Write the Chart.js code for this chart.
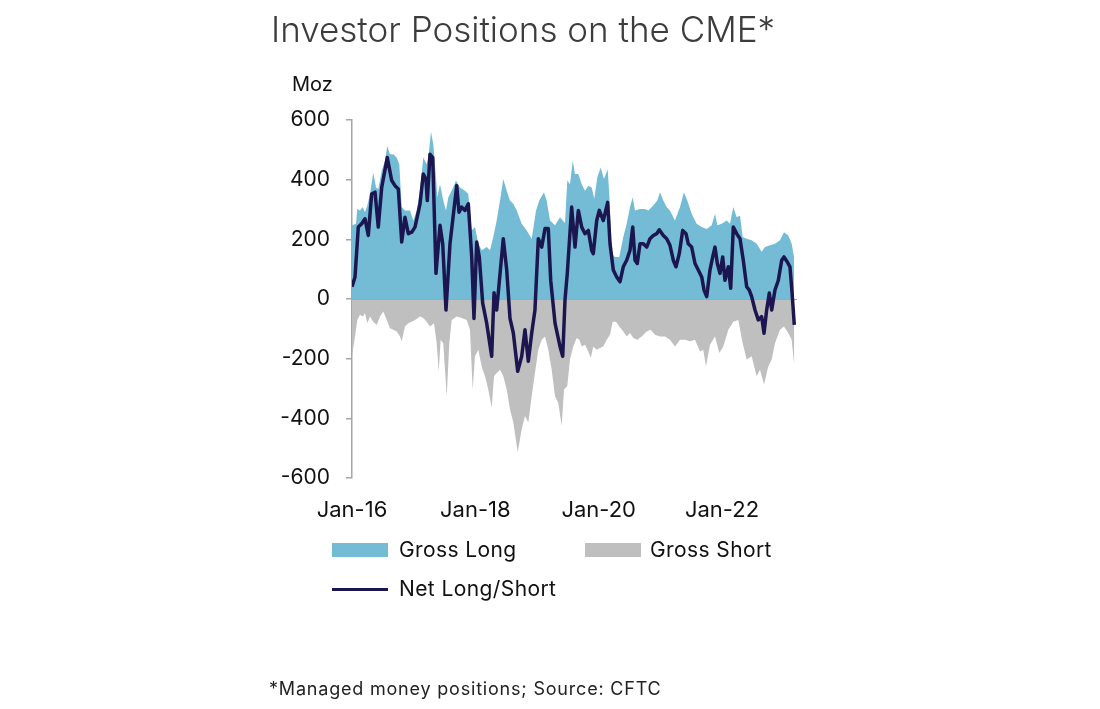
<!DOCTYPE html>
<html><head><meta charset="utf-8">
<script src="https://cdn.jsdelivr.net/npm/chart.js@4.4.1/dist/chart.umd.min.js"></script>
<style>
html,body{margin:0;padding:0;background:#fff;}
#wrap{position:relative;width:1100px;height:709px;overflow:hidden;font-family:Inter,"Liberation Sans",sans-serif;}
canvas{position:absolute;left:0;top:0;}
#title{position:absolute;left:271px;top:8px;font-size:35px;font-weight:300;color:#3c3c3c;white-space:nowrap;}
#unit{position:absolute;left:292px;top:72px;font-size:20px;color:#111;}
.lg{position:absolute;font-size:21px;letter-spacing:0.4px;color:#111;white-space:nowrap;line-height:24px;}
.sw{position:absolute;}
#note{position:absolute;left:269px;top:678px;font-size:18px;letter-spacing:0.8px;color:#222;white-space:nowrap;}
</style></head>
<body><div id="wrap">
<canvas id="c" width="1100" height="709"></canvas>
<div id="title">Investor Positions on the CME*</div>
<div id="unit">Moz</div>
<div id="legend"></div>
<div id="note">*Managed money positions; Source: CFTC</div>
</div>
<script>
const seriesNames = ['Gross Long','Gross Short','Net Long/Short'];
const tickYears = [2016, 2018, 2020, 2022];
const tickLabels = ['Jan-16','Jan-18','Jan-20','Jan-22'];
const yTicks = [-600,-400,-200,0,200,400,600];

const longDates = [2016.000,2016.065,2016.086,2016.130,2016.173,2016.211,2016.248,2016.292,2016.345,2016.389,
2016.426,2016.482,2016.535,2016.572,2016.616,2016.670,2016.725,2016.767,2016.806,2016.859,
2016.940,2016.994,2017.049,2017.103,2017.156,2017.211,2017.237,2017.281,2017.318,2017.362,
2017.383,2017.427,2017.480,2017.524,2017.562,2017.617,2017.686,2017.751,2017.832,2017.886,
2017.941,2017.994,2018.048,2018.103,2018.184,2018.238,2018.291,2018.346,2018.400,2018.453,
2018.509,2018.562,2018.616,2018.671,2018.752,2018.833,2018.914,2018.984,2019.037,2019.113,
2019.157,2019.211,2019.292,2019.373,2019.454,2019.491,2019.535,2019.579,2019.616,2019.670,
2019.725,2019.778,2019.832,2019.887,2019.929,2019.978,2020.033,2020.086,2020.146,2020.172,
2020.211,2020.265,2020.334,2020.399,2020.454,2020.508,2020.552,2020.589,2020.670,2020.751,
2020.805,2020.886,2020.950,2020.994,2021.048,2021.103,2021.156,2021.237,2021.319,2021.383,
2021.437,2021.508,2021.589,2021.671,2021.752,2021.833,2021.886,2021.924,2021.995,2022.076,
2022.129,2022.183,2022.238,2022.292,2022.335,2022.400,2022.481,2022.562,2022.643,2022.697,
2022.778,2022.859,2022.940,2023.005,2023.075,2023.130,2023.167];
const longValues = [247,252,302,297,308,291,313,352,424,374,
369,430,463,513,485,485,474,452,308,297,
297,263,297,363,474,452,474,561,519,408,
341,385,330,297,341,363,397,374,363,352,
230,241,186,163,174,163,208,263,330,402,
363,330,319,297,252,230,202,297,330,358,
330,263,247,274,255,397,385,463,419,419,
385,363,380,374,336,408,441,402,435,352,
152,141,141,208,252,308,341,297,302,302,
297,313,330,358,330,308,297,263,308,358,
330,286,252,241,235,247,286,247,252,263,
252,308,274,280,208,202,197,185,158,174,
180,185,197,224,213,185,141];

const shortDates = [2016.000,2016.049,2016.086,2016.130,2016.173,2016.211,2016.248,2016.292,2016.345,2016.401,
2016.454,2016.508,2016.563,2016.616,2016.670,2016.725,2016.778,2016.806,2016.859,2016.913,
2016.968,2017.022,2017.103,2017.156,2017.211,2017.265,2017.330,2017.373,2017.406,2017.438,
2017.480,2017.536,2017.578,2017.617,2017.698,2017.779,2017.860,2017.913,2017.957,2017.994,
2018.048,2018.103,2018.157,2018.210,2018.265,2018.303,2018.346,2018.400,2018.453,2018.509,
2018.562,2018.616,2018.687,2018.752,2018.805,2018.859,2018.914,2018.967,2019.021,2019.076,
2019.130,2019.183,2019.238,2019.292,2019.345,2019.400,2019.438,2019.491,2019.535,2019.588,
2019.643,2019.686,2019.725,2019.778,2019.832,2019.871,2019.913,2019.968,2020.021,2020.075,
2020.130,2020.184,2020.227,2020.281,2020.334,2020.399,2020.454,2020.508,2020.561,2020.626,
2020.697,2020.779,2020.843,2020.913,2020.994,2021.075,2021.156,2021.237,2021.319,2021.400,
2021.481,2021.562,2021.643,2021.696,2021.740,2021.805,2021.886,2021.956,2022.021,2022.102,
2022.183,2022.264,2022.335,2022.400,2022.481,2022.562,2022.616,2022.681,2022.750,2022.806,
2022.859,2022.940,2023.005,2023.075,2023.130,2023.172];
const shortValues = [-192,-126,-70,-53,-59,-48,-81,-59,-76,-87,
-59,-42,-70,-98,-103,-109,-126,-142,-92,-81,
-76,-70,-59,-64,-76,-92,-81,-148,-242,-137,
-148,-326,-148,-70,-59,-64,-70,-103,-303,-192,
-170,-226,-259,-303,-364,-259,-248,-237,-259,-303,
-370,-414,-514,-437,-392,-414,-326,-248,-170,-137,
-126,-170,-237,-326,-348,-426,-303,-292,-203,-159,
-131,-137,-159,-153,-176,-198,-159,-170,-164,-159,
-137,-120,-76,-76,-92,-109,-126,-114,-131,-137,
-126,-109,-103,-120,-126,-126,-137,-159,-137,-137,
-142,-137,-176,-170,-226,-153,-126,-181,-159,-103,
-76,-70,-148,-203,-192,-259,-237,-287,-226,-203,
-148,-103,-92,-114,-137,-226];

const netDates = [2016.000,2016.049,2016.102,2016.157,2016.211,2016.264,2016.319,2016.373,2016.426,2016.482,
2016.572,2016.644,2016.697,2016.751,2016.806,2016.859,2016.913,2016.968,2017.022,2017.103,
2017.156,2017.200,2017.221,2017.265,2017.309,2017.362,2017.427,2017.471,2017.524,2017.589,
2017.698,2017.735,2017.779,2017.832,2017.886,2017.941,2017.978,2018.022,2018.064,2018.119,
2018.184,2018.265,2018.303,2018.346,2018.453,2018.509,2018.562,2018.616,2018.687,2018.752,
2018.805,2018.859,2018.914,2018.967,2019.021,2019.076,2019.130,2019.183,2019.222,2019.292,
2019.373,2019.417,2019.454,2019.491,2019.562,2019.616,2019.670,2019.725,2019.778,2019.832,
2019.887,2019.913,2019.968,2020.010,2020.075,2020.146,2020.184,2020.237,2020.292,2020.346,
2020.399,2020.454,2020.508,2020.552,2020.589,2020.626,2020.670,2020.724,2020.779,2020.832,
2020.886,2020.941,2020.983,2021.048,2021.103,2021.156,2021.210,2021.254,2021.307,2021.362,
2021.416,2021.453,2021.508,2021.562,2021.615,2021.671,2021.708,2021.752,2021.805,2021.849,
2021.886,2021.924,2021.967,2022.011,2022.048,2022.102,2022.141,2022.183,2022.238,2022.292,
2022.345,2022.400,2022.442,2022.481,2022.535,2022.588,2022.643,2022.681,2022.724,2022.767,
2022.806,2022.859,2022.913,2022.968,2023.005,2023.059,2023.102,2023.135,2023.172];
const netValues = [41,74,241,252,269,213,352,358,241,374,
474,397,380,369,191,274,219,224,241,319,
419,402,330,485,474,86,247,185,-37,185,
380,291,308,297,319,141,-65,191,141,-14,
-81,-192,21,-37,202,97,-65,-114,-242,-192,
-103,-209,-114,-37,202,174,236,236,63,-81,
-159,-192,-3,86,308,174,297,241,219,230,
163,152,263,297,263,324,185,97,74,58,
108,130,163,241,130,119,185,185,174,202,
213,219,232,213,202,180,130,108,152,230,
219,185,174,119,97,74,30,8,97,141,
174,119,86,141,63,108,36,241,219,202,
130,41,30,8,-37,-70,-59,-115,-37,20,
-37,30,63,130,141,124,108,24,-87];

const colors = {long:'#74bcd6', short:'#bfbfbf', net:'#1c1650', axis:'#a6a6a6', zero:'#b3a39d'};
const X_MIN = 2016, X_MAX = 2023.216;

function pts(d, v){ return d.map((x,i)=>({x:x, y:v[i]})); }

const zeroLine = {
  id:'zeroLine',
  beforeDatasetDraw(chart, args){
    if (args.index !== 2) return;
    const {ctx, chartArea, scales} = chart;
    const y = Math.round(scales.y.getPixelForValue(0)) + 0.5;
    ctx.save();
    ctx.strokeStyle = colors.zero; ctx.lineWidth = 1;
    ctx.beginPath(); ctx.moveTo(chartArea.left, y); ctx.lineTo(chartArea.right, y); ctx.stroke();
    ctx.restore();
  }
};

const chart = new Chart(document.getElementById('c'), {
  type:'line',
  data:{datasets:[
    {label:seriesNames[0], order:1, data:pts(longDates,longValues), backgroundColor:colors.long, borderWidth:0, fill:'origin', pointRadius:0, tension:0},
    {label:seriesNames[1], order:2, data:pts(shortDates,shortValues), backgroundColor:colors.short, borderWidth:0, fill:'origin', pointRadius:0, tension:0},
    {label:seriesNames[2], order:0, data:pts(netDates,netValues), borderColor:colors.net, backgroundColor:colors.net, borderWidth:3.5, fill:false, pointRadius:0, tension:0, borderJoinStyle:'round'}
  ]},
  options:{
    responsive:false, animation:false, devicePixelRatio:1,
    layout:{padding:{left:272, top:120, right:303, bottom:181}},
    plugins:{legend:{display:false}, tooltip:{enabled:false}},
    scales:{
      x:{type:'linear', min:X_MIN, max:X_MAX,
         afterBuildTicks(s){ s.ticks = tickYears.map(v=>({value:v})); },
         afterFit(s){ s.height = 50; },
         grid:{display:false}, border:{display:false},
         ticks:{autoSkip:false, maxRotation:0, padding:11, color:'#111', font:{family:'Inter', size:22},
           callback:(v)=>tickLabels[tickYears.indexOf(v)] ?? ''}},
      y:{min:-600, max:600,
         afterBuildTicks(s){ s.ticks = yTicks.map(v=>({value:v})); },
         afterFit(s){ s.width = 80; },
         grid:{drawOnChartArea:false, drawTicks:true, tickLength:6, color:colors.axis, tickColor:colors.axis, lineWidth:1.5},
         border:{display:true, color:colors.axis, width:1.5},
         ticks:{padding:16, color:'#111', font:{family:'Inter', size:21}}}
    }
  },
  plugins:[zeroLine]
});

// HTML legend built from chart datasets
const lg = document.getElementById('legend');
const legendPos = [{bx:332,by:543,tx:399,ty:538,type:'box'},{bx:585,by:543,tx:650,ty:538,type:'box'},{bx:332,by:588,tx:399,ty:577,type:'line'}];
chart.data.datasets.forEach((ds,i)=>{
  const p = legendPos[i];
  const sw = document.createElement('div'); sw.className='sw';
  if (p.type==='box'){ Object.assign(sw.style,{left:p.bx+'px',top:p.by+'px',width:'56px',height:'14px',background:ds.backgroundColor}); }
  else { Object.assign(sw.style,{left:p.bx+'px',top:p.by+'px',width:'56px',height:'3px',background:ds.borderColor}); }
  const t = document.createElement('div'); t.className='lg'; t.textContent = ds.label;
  Object.assign(t.style,{left:p.tx+'px',top:p.ty+'px'});
  lg.appendChild(sw); lg.appendChild(t);
});
</script>
</body></html>
